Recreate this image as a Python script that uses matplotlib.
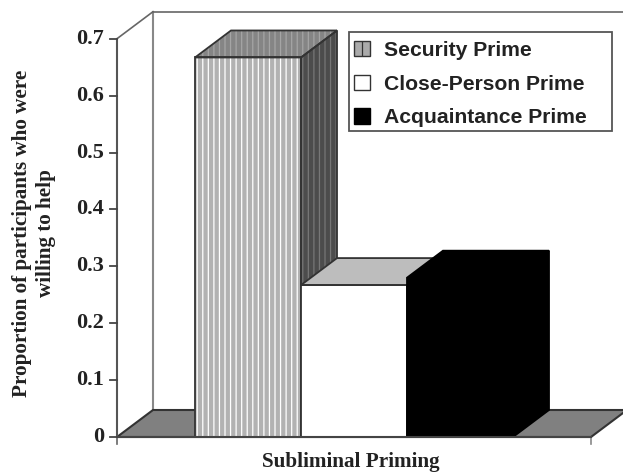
import matplotlib
matplotlib.use("Agg")
import matplotlib.pyplot as plt
from matplotlib.patches import Polygon, Patch, Rectangle

# values
series = ["Security Prime", "Close-Person Prime", "Acquaintance Prime"]
values = [0.667, 0.267, 0.28]
yticks = [0, 0.1, 0.2, 0.3, 0.4, 0.5, 0.6, 0.7]
ylabels = ["0", "0.1", "0.2", "0.3", "0.4", "0.5", "0.6", "0.7"]

# pixel calibration of the drawing
W, H = 623, 472
y0_px = 437
px_y = 569.0   # px per 1.0 of proportion
x0_px = 248
px_x = 106.0   # px per bar width
dx = 36 / px_x   # depth offset
dy = 27 / px_y

fig = plt.figure(figsize=(W / 100, H / 100), dpi=100)
ax = fig.add_axes([0, 0, 1, 1])
ax.set_xlim((0 - x0_px) / px_x, (W - x0_px) / px_x)
ax.set_ylim((y0_px - H) / px_y, y0_px / px_y)
ax.axis("off")

left, right = (117 - x0_px) / px_x, (591 - x0_px) / px_x
ymax = 0.7
plt.rcParams["hatch.linewidth"] = 0.9
serif = "Liberation Serif"
ink = "#222222"


def face(pts, fc, hatch=None, hc=None, ec="#333333", lw=1.3, z=3):
    if hatch:
        ax.add_patch(Polygon(pts, closed=True, facecolor=fc, edgecolor=hc, hatch=hatch, lw=0, zorder=z))
    else:
        ax.add_patch(Polygon(pts, closed=True, facecolor=fc, edgecolor="none", zorder=z))
    ax.add_patch(Polygon(pts, closed=True, fill=False, edgecolor=ec, lw=lw, zorder=z + 0.1))


# floor and walls
face([(left, 0), (right, 0), (right + dx, dy), (left + dx, dy)], "#808080", lw=1.5, z=1)
ax.plot([left + dx, left + dx], [dy, ymax + dy], color="#888888", lw=1.5, zorder=0.5)
ax.plot([left, left + dx], [ymax, ymax + dy], color="#666666", lw=1.2, zorder=0.5)
ax.plot([left + dx, (W - x0_px) / px_x], [ymax + dy, ymax + dy], color="#666666", lw=1.2, zorder=0.5)
ax.plot([left, left], [0, ymax], color="#555555", lw=1.5, zorder=2)
ax.plot([left, right], [0, 0], color="#444444", lw=1.5, zorder=8)

# ticks
for t, s in zip(yticks, ylabels):
    ax.plot([left - 7 / px_x, left], [t, t], color="#444444", lw=1.3, zorder=2)
    ax.text(left - 13 / px_x, t, s, ha="right", va="center", family=serif,
            fontweight="bold", fontsize=16, color=ink)
ax.plot([left, left], [-7 / px_y, 0], color="#666666", lw=1.2)
ax.plot([right, right], [-7 / px_y, 0], color="#888888", lw=1.2)

# bars, each one drawn over the bar to its left
front = ["#b2b2b2", "white", "black"]
top = ["#858585", "#bdbdbd", "black"]
side = ["#4c4c4c", "#8a8a8a", "black"]
edges = ["#333333", "#333333", "black"]
hatches = ["|||", None, None]
for i in [0, 1, 2]:
    x1, x2, v = i - 0.5, i + 0.5, values[i]
    h = hatches[i]
    z = 3 + i
    face([(x2, 0), (x2 + dx, dy), (x2 + dx, v + dy), (x2, v)], side[i], h, "#777777", ec=edges[i], z=z)
    face([(x1, v), (x2, v), (x2 + dx, v + dy), (x1 + dx, v + dy)], top[i], h, "#a5a5a5", ec=edges[i], z=z)
    face([(x1, 0), (x2, 0), (x2, v), (x1, v)], front[i], h, "white", ec=edges[i], z=z)

# labels
ax.text((351 - x0_px) / px_x, (y0_px - 462) / px_y, "Subliminal Priming", ha="center", va="center",
        family=serif, fontweight="bold", fontsize=15.2, color=ink)
ax.text((34 - x0_px) / px_x, (y0_px - 233) / px_y, "Proportion of participants who were\nwilling to help",
        rotation=90, ha="center", va="center", ma="center", family=serif,
        fontweight="bold", fontsize=15.2, color=ink, linespacing=1.3)

# legend box is wider than its text, so the frame is separate
ax.add_patch(Rectangle((349 / W, 1 - 131 / H), 263 / W, 99 / H, transform=fig.transFigure,
                       facecolor="white", edgecolor="#555555", lw=1.3, zorder=19))
handles = [
    Patch(facecolor="#aaaaaa", edgecolor="#333333", hatch="||"),
    Patch(facecolor="white", edgecolor="#333333"),
    Patch(facecolor="black", edgecolor="black"),
]
leg = ax.legend(handles, series, loc="upper left",
                bbox_to_anchor=(349 / W, 1 - 36 / H), bbox_transform=fig.transFigure,
                prop={"family": "Liberation Sans", "weight": "bold", "size": 15.2},
                frameon=False, borderaxespad=0,
                handlelength=0.75, handleheight=0.75, handletextpad=0.7, labelspacing=0.69,
                borderpad=0.23, labelcolor=ink)
leg.set_zorder(20)

fig.savefig("out.png", dpi=100)
